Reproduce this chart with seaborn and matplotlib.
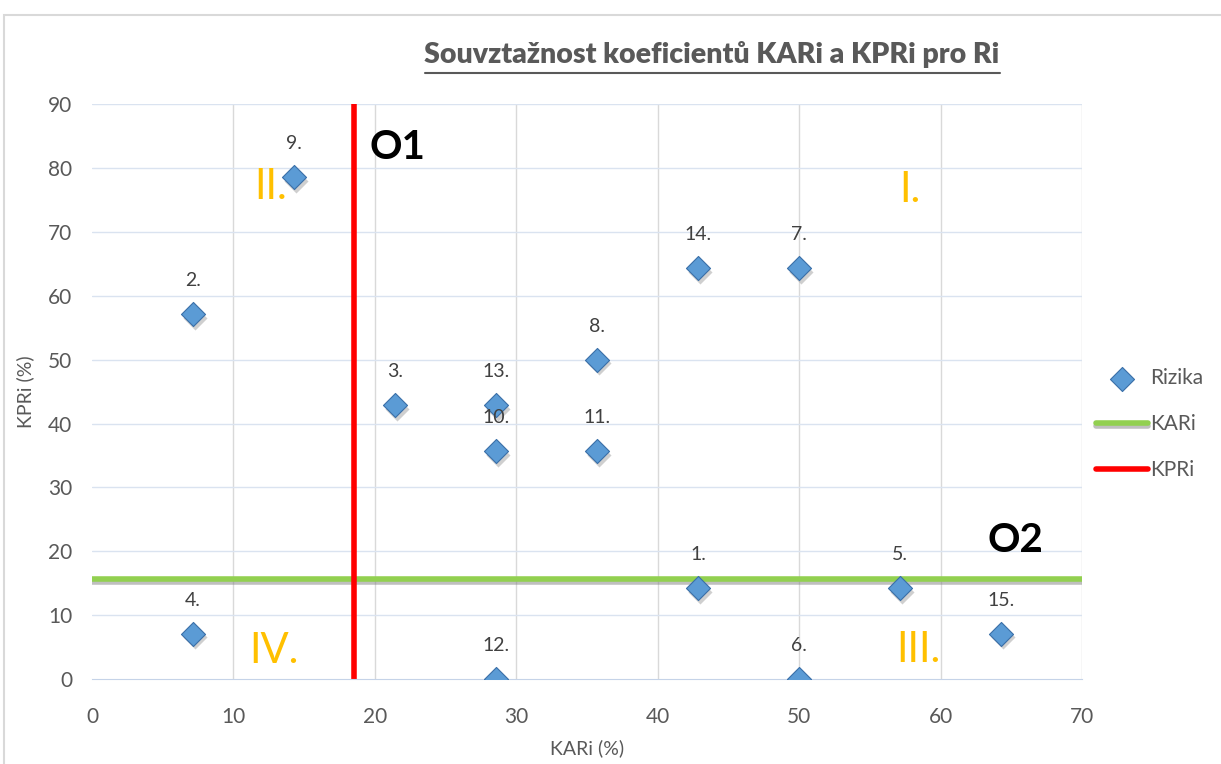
import pandas as pd
import matplotlib.pyplot as plt
import matplotlib.patheffects as pe
import seaborn as sns

# risk values (%)
labels = ["1.", "2.", "3.", "4.", "5.", "6.", "7.", "8.", "9.", "10.", "11.", "12.", "13.", "14.", "15."]
kari = [42.86, 7.14, 21.43, 7.14, 57.14, 50.0, 50.0, 35.71, 14.29, 28.57, 35.71, 28.57, 28.57, 42.86, 64.29]
kpri = [14.29, 57.14, 42.86, 7.14, 14.29, 0.0, 64.29, 50.0, 78.57, 35.71, 35.71, 0.0, 42.86, 64.29, 7.14]
kari_limit = 15.7
kpri_limit = 18.5

df = pd.DataFrame({"KARi": kari, "KPRi": kpri, "label": labels})

sns.set_style("white")
plt.rcParams['font.family'] = ['Lato', 'DejaVu Sans']

fig = plt.figure(figsize=(12.21, 7.64), dpi=100)
ax = fig.add_axes([0.0753, 0.111, 0.8109, 0.753])

# outer chart border
fig.patches.append(plt.Rectangle((0.003, -0.01), 1.2, 0.99, transform=fig.transFigure,
                                 fill=False, edgecolor='#d9d9d9', linewidth=1.5))

ax.set_xlim(0, 70)
ax.set_ylim(0, 90)
ax.set_xticks(range(0, 71, 10))
ax.set_yticks(range(0, 91, 10))
for x in range(10, 71, 10):
    ax.axvline(x, color='#d9d9d9', linewidth=1, zorder=0)
for y in range(10, 91, 10):
    ax.axhline(y, color='#dae3f0', linewidth=1, zorder=0)
for s in ['top', 'right', 'left']:
    ax.spines[s].set_visible(False)
ax.spines['bottom'].set_color('#c5d3e8')

# threshold lines
ax.axhline(kari_limit, color='#92d050', linewidth=4, zorder=2, label='KARi',
           path_effects=[pe.SimpleLineShadow(offset=(0, -2), shadow_color='#808080', alpha=0.5), pe.Normal()])
ax.axvline(kpri_limit, color='#ff0000', linewidth=4, zorder=2, label='KPRi')

# shadow under markers
ax.scatter(df["KARi"] + 0.15, df["KPRi"] - 0.6, marker='D', s=150, color='#a0a0a0', alpha=0.5,
           linewidth=0, zorder=3)
sns.scatterplot(data=df, x="KARi", y="KPRi", marker='D', s=150, color='#5b9bd5',
                edgecolor='#3a6fa8', linewidth=0.8, zorder=4, label='Rizika', ax=ax)

for _, r in df.iterrows():
    ax.annotate(r["label"], (r["KARi"], r["KPRi"]), xytext=(0, 18), textcoords='offset points',
                ha='center', va='bottom', fontsize=14, color='#404040', zorder=5)

# quadrant labels
quad = {"I.": (57.8, 76.5), "II.": (12.6, 77), "III.": (58.4, 4.6), "IV.": (12.9, 4.4)}
for t, (x, y) in quad.items():
    ax.text(x, y, t, fontsize=30, color='#ffc000', ha='center', va='center', zorder=5)
ax.text(21.6, 83.2, "O1", fontsize=29, fontweight='bold', color='black', ha='center', va='center', zorder=5)
ax.text(65.3, 21.7, "O2", fontsize=29, fontweight='bold', color='black', ha='center', va='center', zorder=5)

ax.tick_params(axis='both', labelsize=15, labelcolor='#595959', length=0)
ax.tick_params(axis='x', pad=20)
ax.tick_params(axis='y', pad=14)
ax.set_xlabel("KARi (%)", fontsize=14, color='#595959', labelpad=9)
ax.set_ylabel("KPRi (%)", fontsize=14, color='#595959', labelpad=10)

fig.text(0.583, 0.929, "Souvztažnost koeficientů KARi a KPRi pro Ri", ha='center', va='center',
         fontsize=20.5, fontweight='heavy', color='#595959')
fig.add_artist(plt.Line2D([0.348, 0.819], [0.904, 0.904], color='#595959', linewidth=1.5))

h, l = ax.get_legend_handles_labels()
order = [l.index('Rizika'), l.index('KARi'), l.index('KPRi')]
leg = ax.legend([h[i] for i in order], [l[i] for i in order], loc='center left',
                bbox_to_anchor=(0.995, 0.443), frameon=False, fontsize=15, labelcolor='#595959',
                handlelength=2.5, labelspacing=1.25, handletextpad=0.1)

fig.savefig("out.png", dpi=100)
